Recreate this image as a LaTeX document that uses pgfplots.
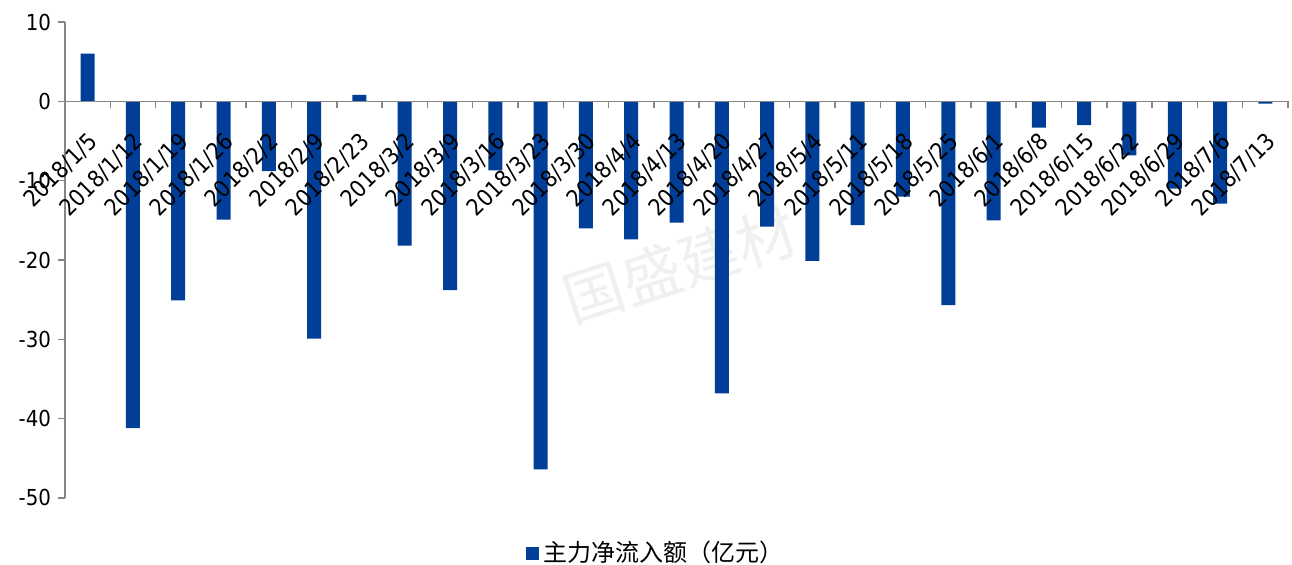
\documentclass[border=0pt]{standalone}
\usepackage{pgfplots}
\pgfplotsset{compat=1.18}
\usepackage{fontspec}
\setmainfont{DejaVu Sans Condensed}
\newfontfamily\cjk{Noto Sans CJK SC}
\definecolor{barblue}{RGB}{0,62,152}
\definecolor{axisgray}{RGB}{134,134,134}

\pgfplotstableread{
idx val
0 6.0
1 -41.2
2 -25.1
3 -14.9
4 -8.8
5 -29.9
6 0.8
7 -18.2
8 -23.8
9 -8.7
10 -46.4
11 -16.0
12 -17.4
13 -15.3
14 -36.8
15 -15.8
16 -20.1
17 -15.6
18 -12.0
19 -25.7
20 -15.0
21 -3.3
22 -3.0
23 -6.8
24 -11.0
25 -12.9
26 -0.3
}\flowdata

\begin{document}
\begin{tikzpicture}
\useasboundingbox (0,0) rectangle (646pt,282.5pt);
% watermark
\node[rotate=18, text=black!6, font=\cjk\fontsize{30}{30}\selectfont] at (340pt,150pt) {国盛建材};
\begin{axis}[
    at={(32.5pt,33.5pt)}, anchor=south west,
    scale only axis,
    width=611.5pt, height=238pt,
    axis on top,
    axis x line*=middle, axis y line*=left,
    x axis line style={-, draw=axisgray, line width=0.75pt},
    y axis line style={-, draw=axisgray, line width=0.75pt},
    xmin=-0.5, xmax=26.5,
    ymin=-50, ymax=10,
    ytick={-50,-40,-30,-20,-10,0,10},
    yticklabels={-50,-40,-30,-20,-10,0,10},
    xtick={0,...,26},
    xticklabels={2018/1/5,2018/1/12,2018/1/19,2018/1/26,2018/2/2,2018/2/9,2018/2/23,2018/3/2,2018/3/9,2018/3/16,2018/3/23,2018/3/30,2018/4/4,2018/4/13,2018/4/20,2018/4/27,2018/5/4,2018/5/11,2018/5/18,2018/5/25,2018/6/1,2018/6/8,2018/6/15,2018/6/22,2018/6/29,2018/7/6,2018/7/13},
    minor xtick={-0.5,0.5,...,26.5},
    major x tick style={draw=none},
    minor x tick style={draw=axisgray, line width=0.75pt},
    y tick style={draw=axisgray, line width=0.75pt},
    tick align=outside,
    major tick length=3.5pt, minor tick length=3.5pt,
    hide obscured x ticks=false, hide obscured y ticks=false,
    x tick label style={rotate=45, anchor=north east, font=\fontsize{11.5}{12}\selectfont, inner sep=1pt, xshift=-7pt, yshift=-6.5pt},
    y tick label style={font=\fontsize{11}{12}\selectfont},
    legend style={at={(0.484,-0.116)}, anchor=center, draw=none, fill=none,
        font=\cjk\fontsize{12}{12}\selectfont},
    legend image code/.code={\fill[barblue] (0pt,-3.2pt) rectangle (6.5pt,3.2pt);},
]
\addplot[ybar, bar width=7pt, fill=barblue, draw=none] table[x=idx, y=val] {\flowdata};
\addlegendentry{主力净流入额（亿元）}
\end{axis}
\end{tikzpicture}
\end{document}
